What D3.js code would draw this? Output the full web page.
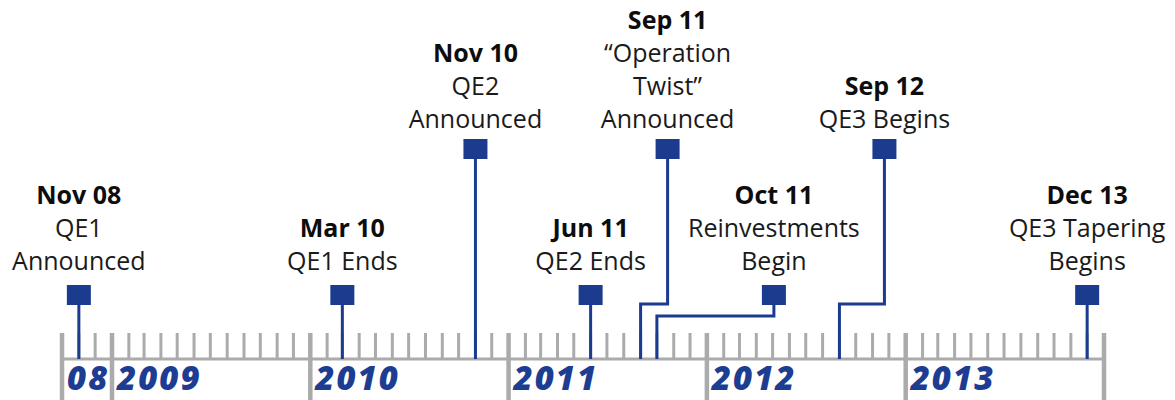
<!DOCTYPE html>
<html>
<head>
<meta charset="utf-8">
<script src="https://cdn.jsdelivr.net/npm/d3@7"></script>
<style>
  body { margin: 0; background: #fff; }
  svg text { font-family: "Open Sans", "DejaVu Sans", sans-serif; }
</style>
</head>
<body>
<svg id="timeline" width="1175" height="400"></svg>
<script>
// event data
var eventDates = ["2008-11-01", "2010-03-01", "2010-11-01", "2011-06-01",
                  "2011-09-01", "2011-10-01", "2012-09-01", "2013-12-01"]
var eventTitles = ["Nov 08", "Mar 10", "Nov 10", "Jun 11", "Sep 11", "Oct 11", "Sep 12", "Dec 13"]
var eventTexts = [
    ["QE1", "Announced"],
    ["QE1 Ends"],
    ["QE2", "Announced"],
    ["QE2 Ends"],
    ["\u201COperation", "Twist\u201D", "Announced"],
    ["Reinvestments", "Begin"],
    ["QE3 Begins"],
    ["QE3 Tapering", "Begins"]
]

// axis data
var axisStart = "2008-10-01"
var axisEnd = "2014-01-01"
var yearTicks = ["2008-10-01", "2009-01-01", "2010-01-01", "2011-01-01", "2012-01-01", "2013-01-01"]
var yearLabels = ["08", "2009", "2010", "2011", "2012", "2013"]

// layout (not data): which tier the label sits in, how far the box is pushed right, elbow height
var tier = ["low", "low", "high", "low", "high", "low", "high", "low"]
var boxShift = [0, 0, 0, 0, 27, 117, 45, 0]
var elbowY = [null, null, null, null, 304, 316, 304, null]

var parse = d3.timeParse("%Y-%m-%d")
var svg = d3.select("#timeline")

var blue = "#1b3b8f",
    gray = "#ababab",
    axisY = 359,
    tickTop = 333,
    lineH = 33,
    boxW = 24,
    boxH = 20

var x = d3.scaleTime()
    .domain([new Date(2009, 0, 1), new Date(2014, 0, 1)])
    .range([112, 1104])

// month ticks, the year starts and both ends run down past the axis
var months = d3.timeMonth.range(parse(axisStart), d3.timeDay.offset(parse(axisEnd), 1))
var majors = yearTicks.map(parse).concat([parse(axisEnd)]).map(function (d) { return +d })

svg.append("g").selectAll("line")
    .data(months)
    .enter().append("line")
    .attr("x1", function (d) { return x(d) })
    .attr("x2", function (d) { return x(d) })
    .attr("y1", tickTop)
    .attr("y2", function (d) { return majors.indexOf(+d) >= 0 ? 400 : axisY })
    .attr("stroke", gray)
    .attr("stroke-width", function (d) { return majors.indexOf(+d) >= 0 ? 4.5 : 3 })

svg.append("line")
    .attr("x1", x(parse(axisStart)))
    .attr("x2", x(parse(axisEnd)))
    .attr("y1", axisY)
    .attr("y2", axisY)
    .attr("stroke", gray)
    .attr("stroke-width", 3)

svg.append("g").selectAll("text")
    .data(yearLabels)
    .enter().append("text")
    .attr("x", function (d, i) { return x(parse(yearTicks[i])) + 5 })
    .attr("y", 390)
    .attr("fill", "#1d3d93")
    .attr("font-size", 33)
    .attr("font-weight", 800)
    .attr("font-style", "italic")
    .attr("letter-spacing", 2)
    .text(function (d) { return d })

// events
var ev = svg.append("g").selectAll("g")
    .data(eventDates)
    .enter().append("g")

function boxX(i) { return x(parse(eventDates[i])) + boxShift[i] }
function boxTop(i) { return tier[i] == "high" ? 139 : 285 }
function lastBase(i) { return tier[i] == "high" ? 128 : 270 }

ev.append("path")
    .attr("d", function (d, i) {
        var bx = boxX(i), ax = x(parse(d)), top = boxTop(i) + boxH
        if (elbowY[i] == null) return "M" + bx + "," + top + "V" + axisY
        return "M" + bx + "," + top + "V" + elbowY[i] + "H" + ax + "V" + axisY
    })
    .attr("fill", "none")
    .attr("stroke", blue)
    .attr("stroke-width", 3)

ev.append("rect")
    .attr("x", function (d, i) { return boxX(i) - boxW / 2 })
    .attr("y", function (d, i) { return boxTop(i) })
    .attr("width", boxW)
    .attr("height", boxH)
    .attr("fill", blue)

ev.each(function (d, i) {
    var lines = [eventTitles[i]].concat(eventTexts[i])
    var n = lines.length
    d3.select(this).selectAll("text")
        .data(lines)
        .enter().append("text")
        .attr("x", boxX(i))
        .attr("y", function (t, j) { return lastBase(i) - (n - 1 - j) * lineH })
        .attr("text-anchor", "middle")
        .attr("font-size", 25)
        .attr("font-weight", function (t, j) { return j == 0 ? "bold" : "normal" })
        .attr("fill", function (t, j) { return j == 0 ? "#0d0d0d" : "#1a1a1a" })
        .text(function (t) { return t })
})
</script>
</body>
</html>
